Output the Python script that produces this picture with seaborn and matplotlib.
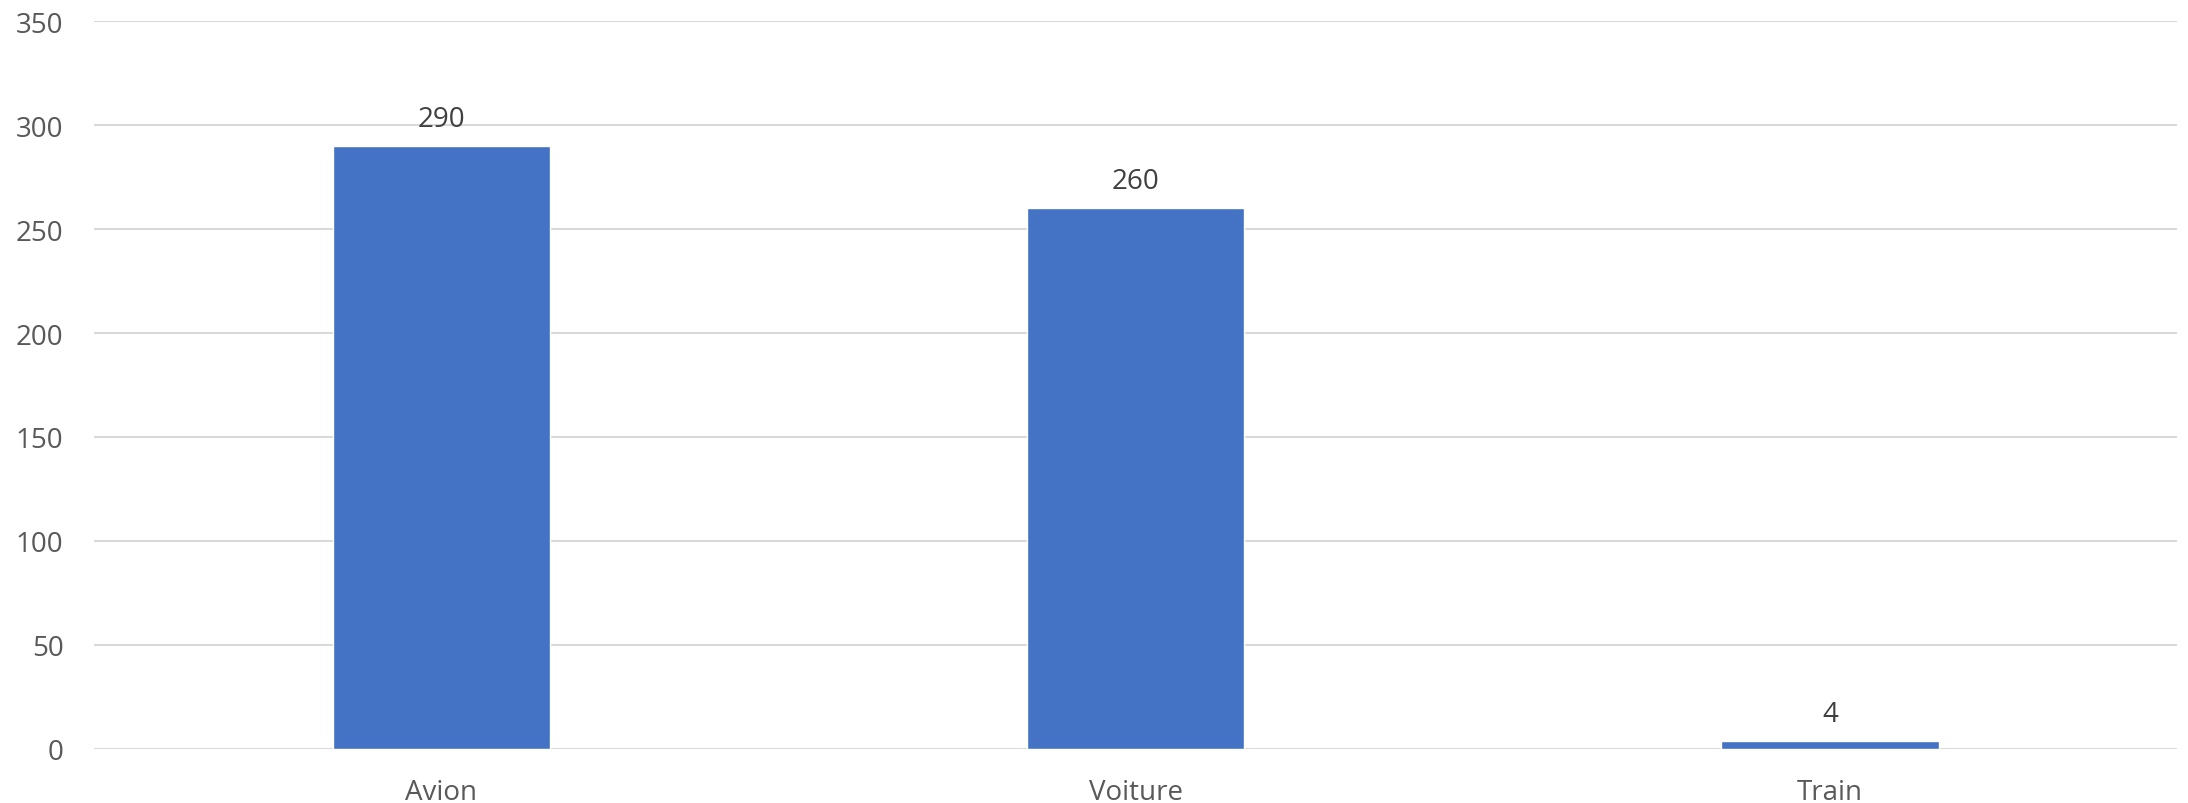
import pandas as pd
import seaborn as sns
import matplotlib.pyplot as plt

# data
categories = ['Avion', 'Voiture', 'Train']
values = [290, 260, 4]
y_ticks = [0, 50, 100, 150, 200, 250, 300, 350]

bar_color = '#4472C4'
grid_color = '#D9D9D9'
tick_color = '#595959'
label_color = '#404040'

sns.set_theme(style='white')
plt.rcParams['font.family'] = ['Open Sans', 'DejaVu Sans']

df = pd.DataFrame({'mode': categories, 'value': values})

fig = plt.figure(figsize=(21.88, 8.04), dpi=100)
ax = fig.add_axes([0.043, 0.0672, 0.952, 0.9054])

sns.barplot(data=df, x='mode', y='value', color=bar_color, width=0.313,
            saturation=1, ax=ax, zorder=3)

ax.set_ylim(0, 350)
ax.set_xlim(-0.5, len(categories) - 0.5)
ax.set_yticks(y_ticks)
ax.set_yticklabels([str(t) for t in y_ticks])

# horizontal gridlines only
ax.grid(axis='y', color=grid_color, linewidth=1.5, zorder=0)
ax.set_axisbelow(True)
for side in ['top', 'right', 'left', 'bottom']:
    ax.spines[side].set_visible(False)

ax.tick_params(axis='y', length=0, pad=22, labelsize=20, labelcolor=tick_color)
ax.tick_params(axis='x', length=0, pad=21, labelsize=20, labelcolor=tick_color)
ax.set_xlabel('')
ax.set_ylabel('')

# value labels above the bars
for i, v in enumerate(values):
    ax.annotate(str(v), xy=(i, v), xytext=(0, 14.5), textcoords='offset points',
                ha='center', va='baseline', fontsize=20, color=label_color)

fig.savefig('out.png', dpi=100)
